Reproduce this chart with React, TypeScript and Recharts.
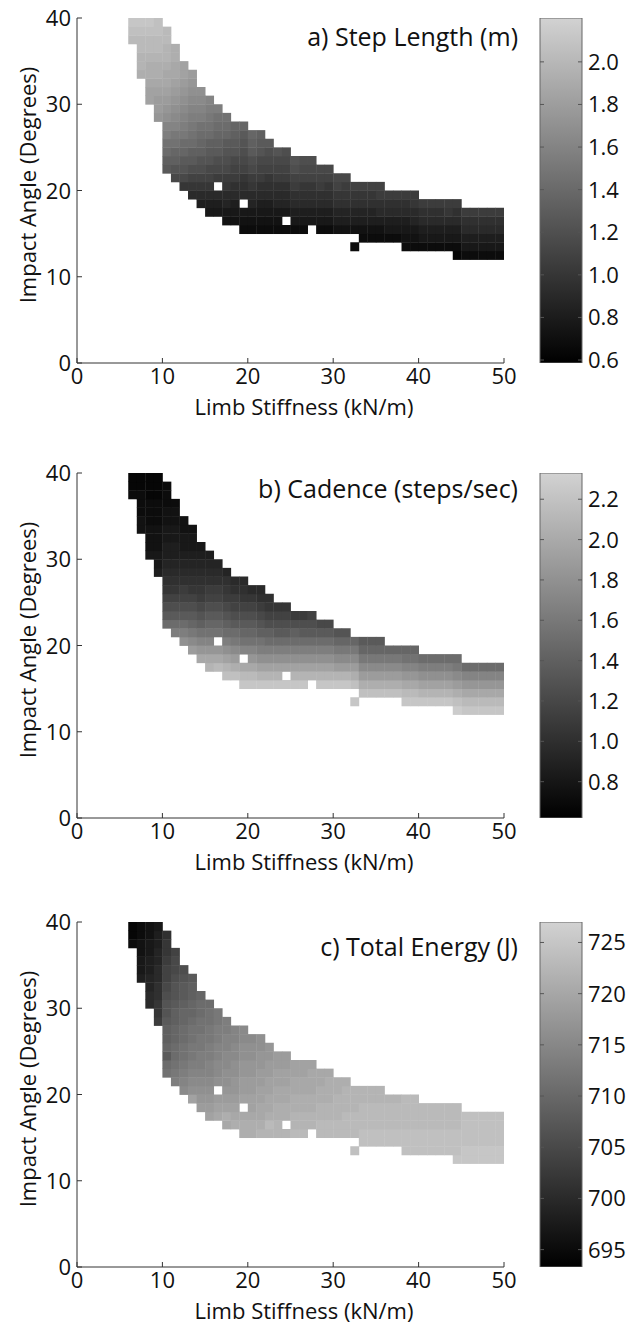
import { ScatterChart, Scatter, XAxis, YAxis, BarChart, Bar } from 'recharts';

const FONT = '"Open Sans", "DejaVu Sans", sans-serif';
const INK = '#111';

const stiffnessTicks = [0, 10, 20, 30, 40, 50];
const angleTicks = [0, 10, 20, 30, 40];

// grid columns are 1 kN/m wide, rows 1 degree tall
const stiffnessColumns = [
  6, 7, 8, 9, 10, 11, 12, 13, 14, 15, 16, 17, 18, 19, 20, 21, 22, 23, 24, 25, 26, 27,
  28, 29, 30, 31, 32, 33, 34, 35, 36, 37, 38, 39, 40, 41, 42, 43, 44, 45, 46, 47, 48, 49,
];
// lowest impact angle row of each column
const firstAngleRow = [
  37, 33, 30, 28, 22, 21, 20, 19, 18, 17, 17, 16, 16, 15, 15, 15, 15, 15, 15, 15, 15, 16,
  15, 15, 15, 15, 13, 14, 14, 14, 14, 14, 13, 13, 13, 13, 13, 13, 12, 12, 12, 12, 12, 12,
];

// one string per column, bottom row first, '.' = no gait found
// 0-9a-z = 36 grey steps from the bottom to the top of the colorbar
const stepLengthCodes = [
  'vwx', 'tuuvvwx', 'rrsttuvvwx', 'pqqrsttuvvww', 'fgijlmopqrsstuuvv', 'ceghjkmnopqrsstt',
  '9cefhiklmnopqrr', '79bdfgijklmnopq', '579bdeghijlmno', '4579bcefgijklm', '457.acdfghijl',
  '34679acdefhij', '34578abcefgh', '234.789bcdefh', '234679acdfgh', '234578abcefg', '2345789bcdf',
  '234678abce', '2.4678abcd', '24578abde', '245789bcd', '45789bcd', '24578abc', '245789bc',
  '35689bc', '35689ac', '2.35689b', '235689b', '235689b', '23578ab', '24578a', '24578a',
  '234578a', '234679a', '24578a', '24578a', '24578a', '24579a', '124578a', '24578a', '24578a',
  '24578a', '24578a', '24578a',
];
const cadenceCodes = [
  '211', '3322211', '4333222111', '544333222111', 'ifdb9876554433222', 'lifdb98765544332',
  'olifdba87654433', 'qnkhfdb98765443', 'spmjgeca987654', 'uspmjhfdba8765', 'vsp.jhfdba876',
  'wuroligeca986', 'wtqnkifdba87', 'xvs.mjhfdb987', 'xvspmjhfdb97', 'xuroljgeca87', 'xuroligdb98',
  'xurolifdb9', 'x.rolifdb9', 'xuroligda', 'xurolifda', 'urolifdb', 'xurolifc', 'xurolifc',
  'xuqnkhe', 'xuqnkhe', 'x.wtqnkh', 'wtqnkhf', 'wtqnkhf', 'wtqnkhf', 'wtqnkh', 'wtqnkh',
  'xvspmjh', 'xvspmjh', 'xuroli', 'xuroli', 'xuroli', 'xuroli', 'ywtqnki', 'xvspmi', 'xvspmi',
  'xvspmi', 'xvspmi', 'xvspmi',
];
const energyCodes = [
  '211', '5443322', '7766554433', 'a99887766554', 'jifhggfeedcbba998', 'lkjiihhggfeedccb',
  'nmlkjjiihhgffed', 'ronmlkkjjihhggf', 'qponmllkkjjiih', 'rqponmmllkkjji', 'srq.onnmmllkk',
  'strqpoonnmmll', 'tsrqppoonnmm', 'tts.rqqppoonn', 'ttsrrqqppoon', 'utssrrqqppoo', 'uvtssrrqqpp',
  'uuttssrrqq', 'u.ttssrrqq', 'vuuttssrr', 'vuuttssrr', 'uuttsssr', 'vvuuttss', 'vvuuttts',
  'vvuuutt', 'vvvuuut', 'w.vvvuuu', 'wwvvvuu', 'wwvvvuu', 'wwvvvuu', 'wwvvvu', 'wwvvvu',
  'wwwvvvv', 'wwwvvvv', 'wwwvvv', 'wwwvvv', 'wwwvvv', 'wwwvvv', 'xwwwvvv', 'xxwwww', 'xxwwww',
  'xxwwww', 'xxwwww', 'xxwwww',
];

const stepLengthRange = [0.586, 2.206];
const cadenceRange = [0.62, 2.33];
const energyRange = [693.3, 727.0];

const stepLengthTicks = [0.6, 0.8, 1.0, 1.2, 1.4, 1.6, 1.8, 2.0];
const cadenceTicks = [0.8, 1.0, 1.2, 1.4, 1.6, 1.8, 2.0, 2.2];
const energyTicks = [695, 700, 705, 710, 715, 720, 725];

const CODE_CHARS = '0123456789abcdefghijklmnopqrstuvwxyz';

const PLOT_LEFT = 77;
const PLOT_RIGHT = 504;
const PLOT_H = 345;
const CELL_W = (PLOT_RIGHT - PLOT_LEFT) / 50;
const CELL_H = PLOT_H / 40;
const BAR_LEFT = 540;
const BAR_W = 42;
const TOP_GREY = 210;
const TICK_FS = 22;

type Cell = { x: number; y: number; v: number };

function toCells(codes: string[], range: number[]): Cell[] {
  const [lo, hi] = range;
  const cells: Cell[] = [];
  codes.forEach((col, i) => {
    for (let k = 0; k < col.length; k++) {
      const idx = CODE_CHARS.indexOf(col[k]);
      if (idx < 0) continue;
      cells.push({
        x: stiffnessColumns[i] + 0.5,
        y: firstAngleRow[i] + k + 0.5,
        v: lo + (idx / 35) * (hi - lo),
      });
    }
  });
  return cells;
}

const XTick = (p: any) => {
  const axisY = p.y - 5;
  return (
    <g>
      <line x1={p.x} x2={p.x} y1={axisY} y2={axisY - 5} stroke="#333" />
      <text x={p.x} y={axisY + 21} textAnchor="middle" fontFamily={FONT} fontSize={TICK_FS} fill={INK}>
        {p.payload.value}
      </text>
    </g>
  );
};

const YTick = (p: any) => {
  const axisX = p.x + 6;
  return (
    <g>
      <line x1={axisX} x2={axisX + 5} y1={p.y} y2={p.y} stroke="#333" />
      <text x={p.x} y={p.y + 8} textAnchor="end" fontFamily={FONT} fontSize={TICK_FS} fill={INK}>
        {p.payload.value}
      </text>
    </g>
  );
};

function BarTick(digits: number) {
  return (p: any) => {
    const edge = p.x - 6;
    return (
      <g>
        <line x1={edge - 4} x2={edge} y1={p.y} y2={p.y} stroke="#555" />
        <line x1={edge - BAR_W} x2={edge - BAR_W + 4} y1={p.y} y2={p.y} stroke="#555" />
        <text x={p.x} y={p.y + 8} textAnchor="start" fontFamily={FONT} fontSize={TICK_FS} fill={INK}>
          {Number(p.payload.value).toFixed(digits)}
        </text>
      </g>
    );
  };
}

interface PanelProps {
  id: string;
  top: number;
  title: string;
  titleBaseline: number;
  codes: string[];
  range: number[];
  ticks: number[];
  digits: number;
}

function Panel({ id, top, title, titleBaseline, codes, range, ticks, digits }: PanelProps) {
  const cells = toCells(codes, range);
  const grey = (v: number) => {
    const t = Math.max(0, Math.min(1, (v - range[0]) / (range[1] - range[0])));
    const g = Math.round(t * TOP_GREY);
    return `rgb(${g},${g},${g})`;
  };
  const labelStyle = { fontFamily: FONT, fontSize: 22, color: INK, lineHeight: '22px', whiteSpace: 'nowrap' as const };

  return (
    <>
      <div style={{ position: 'absolute', left: 0, top: top - 18 }}>
        <ScatterChart width={520} height={415} margin={{ top: 18, right: 16, bottom: 0, left: 0 }}>
          <XAxis
            type="number"
            dataKey="x"
            domain={[0, 50]}
            ticks={stiffnessTicks}
            interval={0}
            height={52}
            tickSize={0}
            tickMargin={5}
            tickLine={false}
            axisLine={{ stroke: '#333' }}
            tick={XTick}
            allowDataOverflow
          />
          <YAxis
            type="number"
            dataKey="y"
            domain={[0, 40]}
            ticks={angleTicks}
            interval={0}
            width={77}
            tickSize={0}
            tickMargin={6}
            tickLine={false}
            axisLine={{ stroke: '#333' }}
            tick={YTick}
            allowDataOverflow
          />
          <Scatter
            data={cells}
            isAnimationActive={false}
            shape={(p: any) => (
              <rect
                x={p.cx - CELL_W / 2}
                y={p.cy - CELL_H / 2}
                width={CELL_W + 0.4}
                height={CELL_H + 0.4}
                fill={grey(p.payload ? p.payload.v : p.v)}
              />
            )}
          />
        </ScatterChart>
      </div>

      <div style={{ position: 'absolute', left: 500, top: top - 18 }}>
        <BarChart
          width={129}
          height={18 + PLOT_H + 16}
          data={[{ name: id, span: range }]}
          margin={{ top: 18, right: 0, bottom: 16, left: BAR_LEFT - 500 }}
          barCategoryGap={0}
        >
          <XAxis dataKey="name" hide />
          <YAxis
            type="number"
            orientation="right"
            domain={range}
            ticks={ticks}
            interval={0}
            width={129 - (BAR_LEFT - 500) - BAR_W}
            tickSize={0}
            tickMargin={6}
            tickLine={false}
            axisLine={false}
            tick={BarTick(digits)}
            allowDataOverflow
          />
          <Bar
            dataKey="span"
            fill={`url(#bar-${id})`}
            stroke="#666"
            strokeWidth={1}
            isAnimationActive={false}
          />
        </BarChart>
      </div>

      <div
        style={{
          position: 'absolute', left: 0, width: 518, top: titleBaseline - 22.2,
          textAlign: 'right', fontFamily: FONT, fontSize: 25, lineHeight: '25px', color: INK,
          whiteSpace: 'nowrap',
        }}
      >
        {title}
      </div>
      <div
        style={{
          ...labelStyle, position: 'absolute', left: 304 - 200, width: 400,
          top: top + PLOT_H + 42.5 - 11, textAlign: 'center',
        }}
      >
        Limb Stiffness (kN/m)
      </div>
      <div
        style={{
          ...labelStyle, position: 'absolute', left: 27 - 200, width: 400,
          top: top + PLOT_H / 2 - 6 - 11, textAlign: 'center',
          transform: 'rotate(-90deg)', transformOrigin: '50% 50%',
        }}
      >
        Impact Angle (Degrees)
      </div>
    </>
  );
}

const gradientIds = ['a', 'b', 'c'];

export default function App() {
  return (
    <div style={{ position: 'absolute', left: 0, top: 0, width: 629, height: 1325, background: '#fff', overflow: 'hidden' }}>
      <svg width={0} height={0} style={{ position: 'absolute' }}>
        <defs>
          {gradientIds.map((id) => (
            <linearGradient key={id} id={`bar-${id}`} x1="0" y1="0" x2="0" y2="1">
              <stop offset="0" stopColor={`rgb(${TOP_GREY},${TOP_GREY},${TOP_GREY})`} />
              <stop offset="1" stopColor="#000" />
            </linearGradient>
          ))}
        </defs>
      </svg>
      <Panel
        id="a"
        top={18}
        title="a) Step Length (m)"
        titleBaseline={46}
        codes={stepLengthCodes}
        range={stepLengthRange}
        ticks={stepLengthTicks}
        digits={1}
      />
      <Panel
        id="b"
        top={473}
        title="b) Cadence (steps/sec)"
        titleBaseline={498}
        codes={cadenceCodes}
        range={cadenceRange}
        ticks={cadenceTicks}
        digits={1}
      />
      <Panel
        id="c"
        top={922}
        title="c) Total Energy (J)"
        titleBaseline={956}
        codes={energyCodes}
        range={energyRange}
        ticks={energyTicks}
        digits={0}
      />
    </div>
  );
}
